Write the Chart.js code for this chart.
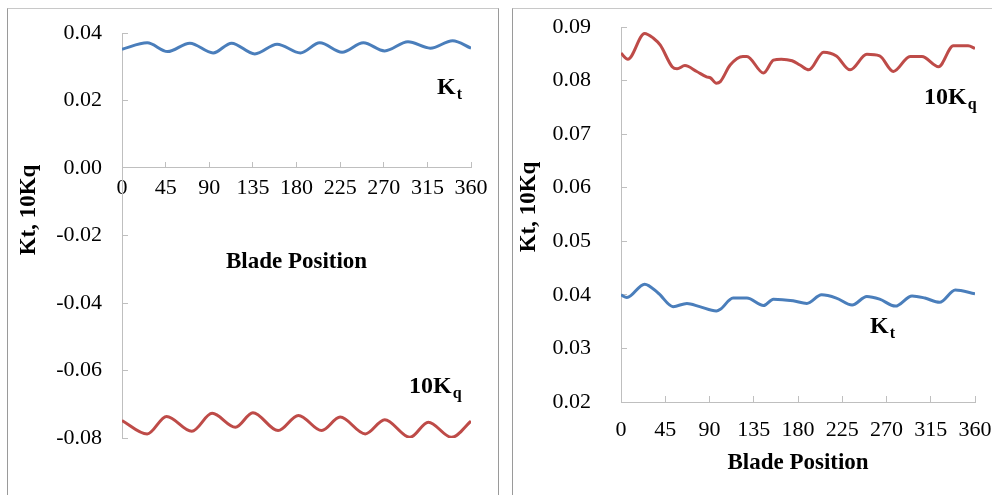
<!DOCTYPE html>
<html>
<head>
<meta charset="utf-8">
<script src="https://cdn.jsdelivr.net/npm/chart.js@4/dist/chart.umd.min.js"></script>
<style>
  html, body { margin: 0; padding: 0; background: #fff; width: 992px; height: 495px; overflow: hidden; }
  .panel { position: absolute; top: 8px; height: 520px; box-sizing: border-box; border-top: 1px solid #c8c8c8; }
  #panelA { left: 7px; width: 492px; border-left: 1px solid #9a9a9a; border-right: 1px solid #9a9a9a; }
  #panelB { left: 512px; width: 490px; border-left: 1px solid #9a9a9a; }
  canvas { position: absolute; }
  #chartA { left: 8px; top: 9px; }
  #chartB { left: 513px; top: 9px; }
</style>
</head>
<body>
<div class="panel" id="panelA"></div>
<div class="panel" id="panelB"></div>
<canvas id="chartA" width="489" height="486"></canvas>
<canvas id="chartB" width="479" height="486"></canvas>
<script>
// ---- left panel: Kt and 10Kq on a shared axis, x axis crossing at zero ----
const posKtA = [0, 26, 47, 70, 94, 113, 137, 160, 184, 204, 227, 249, 271, 295, 318, 341, 360];
const ktA    = [0.0352, 0.0371, 0.0345, 0.0370, 0.0341, 0.0370, 0.0338, 0.0367, 0.0341,
                0.0371, 0.0343, 0.0371, 0.0347, 0.0374, 0.0355, 0.0377, 0.0355];
const posKqA = [0, 26, 46, 72, 93, 117, 135, 161, 182, 206, 225, 251, 271, 297, 316, 340, 360];
const kqA    = [-0.0748, -0.0788, -0.0736, -0.0780, -0.0727, -0.0768, -0.0725, -0.0778, -0.0733,
                -0.0778, -0.0738, -0.0788, -0.0746, -0.0798, -0.0753, -0.0798, -0.0750];

// ---- right panel ----
const posKqB = [0, 7, 24, 33, 40, 52, 57, 65, 77, 87, 91, 97, 101, 111, 124, 128, 145, 155, 163,
                174, 182, 191, 206, 219, 233, 250, 263, 277, 294, 306, 323, 338, 353, 360];
const kqB    = [0.0851, 0.0840, 0.0888, 0.0879, 0.0866, 0.0826, 0.0822, 0.0828, 0.0817, 0.0807,
                0.0805, 0.0795, 0.0798, 0.0829, 0.0845, 0.0845, 0.0814, 0.0838, 0.0840, 0.0837,
                0.0829, 0.0820, 0.0853, 0.0846, 0.0820, 0.0849, 0.0846, 0.0817, 0.0845, 0.0845,
                0.0826, 0.0865, 0.0865, 0.0860];
const posKtB = [0, 6, 24, 38, 53, 67, 80, 97, 101, 114, 128, 145, 155, 175, 189, 204, 219, 235,
                250, 263, 279, 296, 309, 324, 340, 360];
const ktB    = [0.0400, 0.0395, 0.0420, 0.0403, 0.0378, 0.0384, 0.0378, 0.0370, 0.0373, 0.0394,
                0.0394, 0.0380, 0.0392, 0.0389, 0.0384, 0.0400, 0.0394, 0.0381, 0.0397, 0.0392,
                0.0379, 0.0398, 0.0394, 0.0386, 0.0409, 0.0402];

const xTickStep = 45;
const axisTitleX = "Blade Position";
const axisTitleY = "Kt, 10Kq";

const BLUE = "#4A7EBB";
const RED = "#BE4B48";
const GREY = "#bfbfbf";
const SERIF = "'Liberation Serif', 'Times New Roman', serif";

const toPoints = (xs, ys) => xs.map((x, i) => ({ x, y: ys[i] }));

function lineSet(label, xs, ys, color) {
    return {
        label,
        data: toPoints(xs, ys),
        borderColor: color,
        borderWidth: 3,
        pointRadius: 0,
        fill: false,
        cubicInterpolationMode: "monotone"
    };
}

// inside tick marks, no gridlines
const gridStyle = { drawOnChartArea: false, drawTicks: true, tickLength: -6, color: GREY, lineWidth: 1 };
const borderStyle = { color: GREY, width: 1 };

// curve names (K with subscript) and the rotated y axis title
const labelPlugin = {
    id: "seriesLabels",
    afterDraw(chart, args, opts) {
        const ctx = chart.ctx;
        ctx.save();
        ctx.fillStyle = "#000";
        ctx.textBaseline = "alphabetic";
        ctx.textAlign = "left";
        for (const l of opts.labels) {
            ctx.font = "bold 24px " + SERIF;
            ctx.fillText(l.main, l.x, l.y);
            const w = ctx.measureText(l.main).width;
            ctx.font = "bold 16px " + SERIF;
            ctx.fillText(l.sub, l.x + w + 1, l.y + 5);
        }
        ctx.translate(opts.title.x, opts.title.y);
        ctx.rotate(-Math.PI / 2);
        ctx.textAlign = "center";
        ctx.textBaseline = "middle";
        ctx.font = "bold 23px " + SERIF;
        ctx.fillText(axisTitleY, 0, 0);
        ctx.restore();
    }
};

function buildChart(id, datasets, cfg) {
    return new Chart(document.getElementById(id), {
        type: "line",
        data: { datasets },
        plugins: [labelPlugin],
        options: {
            responsive: false,
            animation: false,
            layout: { padding: cfg.padding },
            plugins: {
                legend: { display: false },
                tooltip: { enabled: false },
                seriesLabels: { labels: cfg.labels, title: cfg.title }
            },
            scales: {
                x: {
                    type: "linear",
                    position: cfg.xPosition,
                    min: 0, max: 360,
                    grid: gridStyle,
                    border: borderStyle,
                    ticks: {
                        stepSize: xTickStep,
                        padding: cfg.xTickPad,
                        color: "#000",
                        maxRotation: 0,
                        font: { family: SERIF, size: 22 }
                    },
                    title: {
                        display: true,
                        text: axisTitleX,
                        color: "#000",
                        padding: { top: cfg.xTitlePad, bottom: 0 },
                        font: { family: SERIF, size: 23, weight: "bold" }
                    },
                    afterFit: (s) => {
                        s.paddingLeft = 0;
                        s.paddingRight = 0;
                        if (cfg.xHeight) s.height = cfg.xHeight;
                    }
                },
                y: {
                    min: cfg.yMin, max: cfg.yMax,
                    grid: gridStyle,
                    border: borderStyle,
                    ticks: {
                        stepSize: cfg.yStep,
                        padding: cfg.yTickPad,
                        color: "#000",
                        font: { family: SERIF, size: 22 },
                        callback: (v) => v.toFixed(2)
                    },
                    afterFit: (s) => {
                        s.width = cfg.yWidth;
                        s.paddingTop = 0;
                        s.paddingBottom = 0;
                    }
                }
            }
        }
    });
}

buildChart("chartA", [
    lineSet("Kt", posKtA, ktA, BLUE),
    lineSet("10Kq", posKqA, kqA, RED)
], {
    padding: { left: 0, right: 26, top: 24, bottom: 57 },
    xPosition: { y: 0 },
    xTickPad: 13,
    xTitlePad: 34,
    yMin: -0.08, yMax: 0.04, yStep: 0.02,
    yTickPad: 26,
    yWidth: 114,
    labels: [
        { main: "K", sub: "t", x: 429, y: 85 },
        { main: "10K", sub: "q", x: 401, y: 384 }
    ],
    title: { x: 21, y: 201 }
});

buildChart("chartB", [
    lineSet("10Kq", posKqB, kqB, RED),
    lineSet("Kt", posKtB, ktB, BLUE)
], {
    padding: { left: 0, right: 17, top: 18, bottom: 18 },
    xPosition: "bottom",
    xTickPad: 21,
    xTitlePad: 8,
    xHeight: 75,
    yMin: 0.02, yMax: 0.09, yStep: 0.01,
    yTickPad: 36,
    yWidth: 108,
    labels: [
        { main: "10K", sub: "q", x: 411, y: 95 },
        { main: "K", sub: "t", x: 357, y: 324 }
    ],
    title: { x: 16, y: 198 }
});
</script>
</body>
</html>
